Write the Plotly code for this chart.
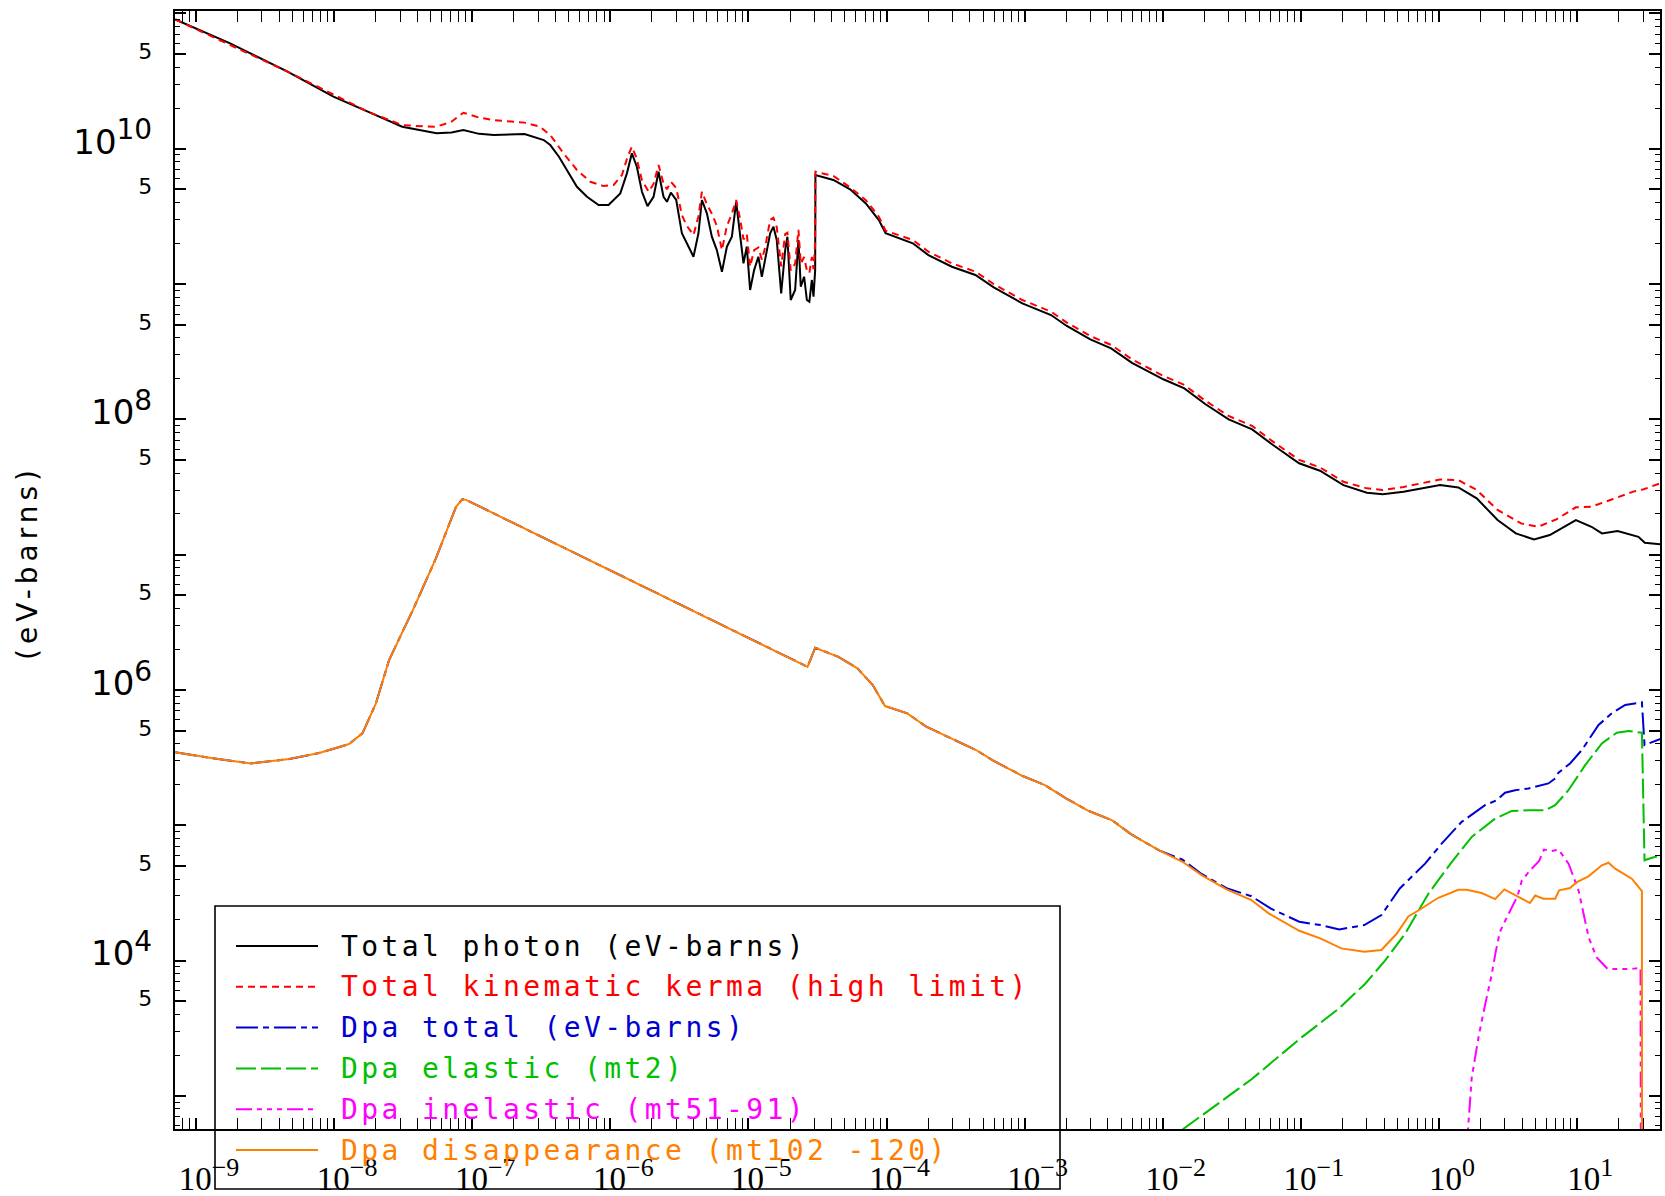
import numpy as np
import plotly.graph_objects as go

# ---------------- data (log10 of energy / log10 of eV-barns) ----------------
photon_log10E = [-9.15, -8.753, -8.337, -8.005, -7.756, -7.507, -7.258, -7.15, -7.064, -6.95, -6.843, -6.621,
                 -6.482, -6.435, -6.372, -6.242, -6.169, -6.085, -6.013, -5.928, -5.880, -5.844, -5.808, -5.771,
                 -5.731, -5.687, -5.651, -5.615, -5.590, -5.562, -5.523, -5.482, -5.446, -5.398, -5.362, -5.337,
                 -5.301, -5.265, -5.229, -5.192, -5.156, -5.120, -5.089, -5.060, -5.036, -5.012, -4.988, -4.959,
                 -4.928, -4.903, -4.879, -4.843, -4.819, -4.795, -4.763, -4.734, -4.718, -4.694, -4.662, -4.638,
                 -4.621, -4.597, -4.577, -4.559, -4.541, -4.529, -4.517, -4.515, -4.385, -4.264, -4.150, -4.056,
                 -4.007, -3.810, -3.697, -3.527, -3.357, -3.224, -3.017, -2.809, -2.695, -2.525, -2.374, -2.223,
                 -1.996, -1.844, -1.693, -1.523, -1.353, -1.202, -1.013, -0.862, -0.692, -0.522, -0.408, -0.257,
                 0.008, 0.140, 0.273, 0.424, 0.556, 0.688, 0.802, 0.991, 1.104, 1.180, 1.293, 1.444, 1.49, 1.615]
photon_log10Y = [10.955, 10.779, 10.570, 10.385, 10.274, 10.163, 10.114, 10.12, 10.138, 10.11, 10.101, 10.109,
                 10.064, 10.027, 9.941, 9.719, 9.645, 9.584, 9.584, 9.670, 9.818, 9.966, 9.867, 9.682,
                 9.576, 9.645, 9.830, 9.645, 9.608, 9.675, 9.621, 9.375, 9.301, 9.202, 9.375, 9.621,
                 9.523, 9.350, 9.251, 9.091, 9.276, 9.350, 9.608, 9.375, 9.153, 9.276, 8.956, 9.103,
                 9.202, 9.054, 9.177, 9.375, 9.424, 9.325, 8.931, 9.251, 9.350, 8.882, 8.956, 9.325,
                 8.980, 9.054, 8.882, 8.869, 9.030, 8.906, 9.103, 9.806, 9.769, 9.700, 9.596, 9.473,
                 9.375, 9.301, 9.214, 9.128, 9.067, 8.976, 8.857, 8.771, 8.690, 8.591, 8.525, 8.418,
                 8.296, 8.229, 8.113, 8.000, 7.926, 7.810, 7.675, 7.620, 7.514, 7.458, 7.446, 7.465,
                 7.514, 7.497, 7.416, 7.256, 7.157, 7.113, 7.145, 7.256, 7.206, 7.157, 7.174, 7.132, 7.088, 7.076]

kerma_log10E = [-9.15, -8.337, -7.756, -7.60, -7.507, -7.35, -7.258, -7.15, -7.064, -6.95, -6.843, -6.621,
                -6.51, -6.435, -6.339, -6.242, -6.145, -6.048, -5.976, -5.916, -5.875, -5.844, -5.81, -5.771,
                -5.723, -5.687, -5.651, -5.615, -5.590, -5.562, -5.523, -5.482, -5.446, -5.398, -5.362, -5.337,
                -5.301, -5.265, -5.229, -5.192, -5.156, -5.120, -5.089, -5.060, -5.036, -5.012, -4.988, -4.959,
                -4.928, -4.903, -4.879, -4.843, -4.819, -4.795, -4.763, -4.734, -4.718, -4.694, -4.662, -4.638,
                -4.621, -4.597, -4.577, -4.559, -4.541, -4.529, -4.517, -4.515, -4.385, -4.264, -4.150, -4.056,
                -4.007, -3.810, -3.697, -3.527, -3.357, -3.224, -3.017, -2.809, -2.695, -2.525, -2.374, -2.223,
                -1.996, -1.844, -1.693, -1.523, -1.353, -1.202, -1.013, -0.862, -0.692, -0.522, -0.408, -0.257,
                0.008, 0.140, 0.273, 0.424, 0.594, 0.716, 0.850, 0.991, 1.104, 1.255, 1.406, 1.482, 1.615]
kerma_log10Y = [10.955, 10.570, 10.274, 10.21, 10.175, 10.165, 10.163, 10.20, 10.266, 10.23, 10.212, 10.193,
                10.163, 10.101, 9.966, 9.843, 9.756, 9.724, 9.732, 9.806, 9.941, 10.015, 9.93, 9.768,
                9.682, 9.74, 9.880, 9.743, 9.70, 9.756, 9.71, 9.510, 9.43, 9.362, 9.50, 9.682,
                9.59, 9.52, 9.43, 9.251, 9.43, 9.52, 9.621, 9.48, 9.33, 9.37, 9.128, 9.25,
                9.27, 9.18, 9.27, 9.474, 9.49, 9.42, 9.13, 9.37, 9.38, 9.10, 9.15, 9.40,
                9.15, 9.20, 9.10, 9.08, 9.20, 9.11, 9.30, 9.830, 9.799, 9.715, 9.62, 9.498,
                9.394, 9.326, 9.239, 9.153, 9.092, 9.000, 8.882, 8.796, 8.715, 8.616, 8.550, 8.443,
                8.321, 8.254, 8.138, 8.025, 7.951, 7.835, 7.700, 7.645, 7.539, 7.490, 7.478, 7.50,
                7.556, 7.551, 7.478, 7.330, 7.231, 7.206, 7.261, 7.350, 7.355, 7.409, 7.466, 7.483, 7.532]

# low-energy part common to Dpa total and Dpa disappearance
dpa_low_log10E = [-9.152, -8.878, -8.603, -8.340, -8.109, -7.892, -7.795, -7.698, -7.602, -7.424, -7.263,
                  -7.117, -7.072, -7.045, -4.572, -4.517, -4.349, -4.211, -4.100, -4.011, -3.850, -3.712,
                  -3.532, -3.352, -3.227, -3.019, -2.854, -2.701, -2.535, -2.369, -2.231, -2.023]
dpa_low_log10Y = [5.539, 5.495, 5.457, 5.487, 5.534, 5.600, 5.679, 5.899, 6.221, 6.603, 6.973,
                  7.354, 7.409, 7.405, 6.171, 6.312, 6.245, 6.160, 6.036, 5.881, 5.827, 5.728,
                  5.642, 5.556, 5.477, 5.366, 5.297, 5.199, 5.105, 5.038, 4.935, 4.812]

dpa_total_hi_log10E = [-1.857, -1.719, -1.538, -1.358, -1.220, -1.012, -0.860, -0.722, -0.541, -0.417, -0.284,
                       -0.222, -0.101, 0.019, 0.164, 0.333, 0.418, 0.478, 0.551, 0.647, 0.792, 0.841, 0.865,
                       0.949, 1.034, 1.155, 1.251, 1.348, 1.469, 1.488, 1.541, 1.615]
dpa_total_hi_log10Y = [4.745, 4.640, 4.535, 4.475, 4.385, 4.287, 4.262, 4.230, 4.262, 4.336, 4.533,
                       4.593, 4.716, 4.864, 5.025, 5.148, 5.185, 5.240, 5.259, 5.272, 5.309, 5.346, 5.388,
                       5.457, 5.556, 5.741, 5.827, 5.889, 5.909, 5.593, 5.615, 5.642]

dpa_disap_hi_log10E = [-1.857, -1.719, -1.538, -1.358, -1.234, -1.012, -0.860, -0.708, -0.541, -0.417, -0.307,
                       -0.222, -0.150, -0.005, 0.140, 0.200, 0.309, 0.406, 0.473, 0.575, 0.659, 0.696, 0.756,
                       0.841, 0.870, 0.949, 0.998, 1.082, 1.179, 1.227, 1.275, 1.396, 1.469, 1.470]
dpa_disap_hi_log10Y = [4.730, 4.632, 4.526, 4.447, 4.349, 4.220, 4.164, 4.090, 4.065, 4.078, 4.198,
                       4.326, 4.370, 4.464, 4.523, 4.523, 4.499, 4.454, 4.526, 4.474, 4.425, 4.481, 4.457,
                       4.457, 4.519, 4.536, 4.580, 4.622, 4.704, 4.723, 4.679, 4.605, 4.514, 2.0]

elastic_log10E = [-1.95, -1.889, -1.671, -1.357, -0.995, -0.729, -0.536, -0.391, -0.246, -0.077, 0.092, 0.237,
                  0.406, 0.527, 0.647, 0.768, 0.841, 0.937, 1.058, 1.179, 1.287, 1.372, 1.469, 1.488, 1.541, 1.615]
elastic_log10Y = [2.60, 2.728, 2.889, 3.123, 3.432, 3.642, 3.827, 4.000, 4.198, 4.494, 4.728, 4.914,
                  5.049, 5.106, 5.111, 5.111, 5.148, 5.259, 5.444, 5.605, 5.684, 5.696, 5.684, 4.741, 4.760, 4.778]

inelastic_log10E = [0.200, 0.208, 0.237, 0.290, 0.340, 0.380, 0.410, 0.440, 0.480, 0.530, 0.570, 0.600, 0.660,
                    0.725, 0.760, 0.815, 0.866, 0.938, 1.010, 1.083, 1.140, 1.220, 1.396, 1.459, 1.462]
inelastic_log10Y = [2.50, 2.728, 3.136, 3.457, 3.704, 3.889, 4.062, 4.210, 4.296, 4.395, 4.481, 4.593, 4.667,
                    4.736, 4.820, 4.810, 4.820, 4.716, 4.519, 4.173, 4.025, 3.938, 3.938, 3.946, 2.0]

series_names = ["Total photon (eV-barns)", "Total kinematic kerma (high limit)", "Dpa total (eV-barns)",
                "Dpa elastic (mt2)", "Dpa inelastic (mt51-91)", "Dpa disappearance (mt102 -120)"]

x_tick_exponents = [-9, -8, -7, -6, -5, -4, -3, -2, -1, 0, 1]
y_labelled_decades = [4, 6, 8, 10]
y_unlabelled_decades = [3, 5, 7, 9, 11]
y_five_decades = [3, 4, 5, 6, 7, 8, 9, 10]

# ---------------- styling ----------------
colors = ["#000000", "#ff0000", "#0000d0", "#00c000", "#ff00ff", "#ff8000"]
dashes = ["solid", "7px,5px", "22px,5px,6px,5px", "20px,5px", "16px,5px,5px,5px,5px,5px,5px,5px", "solid"]

def p10(a):
    return (10.0 ** np.asarray(a, dtype=float)).tolist()

series = [
    (photon_log10E, photon_log10Y),
    (kerma_log10E, kerma_log10Y),
    (dpa_low_log10E + dpa_total_hi_log10E, dpa_low_log10Y + dpa_total_hi_log10Y),
    (elastic_log10E, elastic_log10Y),
    (inelastic_log10E, inelastic_log10Y),
    (dpa_low_log10E + dpa_disap_hi_log10E, dpa_low_log10Y + dpa_disap_hi_log10Y),
]

fig = go.Figure()
for (lx, ly), name, c, d in zip(series, series_names, colors, dashes):
    fig.add_trace(go.Scatter(x=p10(lx), y=p10(ly), mode="lines", name=name,
                             line=dict(color=c, width=2, dash=d), showlegend=False,
                             hoverinfo="skip"))

# plot-area geometry (pixels)
W, H = 1665, 1196
L, R, T, B = 175, 5, 11, 67
PW, PH = W - L - R, H - T - B

def px(xp):
    return (xp - L) / PW

def py(yp):
    return (H - B - yp) / PH

# ---------------- axes ----------------
x_ticktext = ["10<sup><span style='font-size:26px'>%s</span></sup>" % (str(e).replace("-", "\u2212"))
              for e in x_tick_exponents]
y_tickvals = p10(y_labelled_decades) + [5 * 10.0 ** d for d in y_five_decades]
y_ticktext = ["10<sup><span style='font-size:28px'>%d</span></sup>" % d for d in y_labelled_decades] + \
             ["<span style='font-size:22px'>5</span>"] * len(y_five_decades)

axis_common = dict(type="log", showgrid=False, zeroline=False, showline=True, linecolor="black",
                   linewidth=2, mirror="allticks", ticks="inside", ticklen=11, tickwidth=1.6,
                   tickcolor="black", automargin=False,
                   minor=dict(ticks="inside", ticklen=5, tickwidth=1.2, tickcolor="black", dtick="D1"))

fig.update_xaxes(range=[-9.152, 1.600], tickmode="array", tickvals=p10(x_tick_exponents),
                 ticktext=x_ticktext, tickfont=dict(family="Liberation Serif", size=33, color="black"),
                 ticklabelstandoff=19, ticklabelshift=13, **axis_common)
fig.update_yaxes(range=[2.755, 11.018], tickmode="array", tickvals=y_tickvals, ticktext=y_ticktext,
                 tickfont=dict(family="DejaVu Sans", size=34, color="black"),
                 ticklabelstandoff=14, ticklabelshift=-7, **axis_common)

# long ticks at the unlabelled decades (drawn on an overlaid, label-free axis)
fig.add_trace(go.Scatter(x=[], y=[], yaxis="y2", showlegend=False, hoverinfo="skip"))
fig.update_layout(yaxis2=dict(overlaying="y", side="left", range=[2.755, 11.018], type="log",
                              tickmode="array", tickvals=p10(y_unlabelled_decades), showticklabels=False,
                              ticks="inside", ticklen=11, tickwidth=1.6, tickcolor="black",
                              showgrid=False, zeroline=False, showline=False, mirror="ticks",
                              automargin=False))

# ---------------- manual legend ----------------
shapes = [dict(type="rect", xref="paper", yref="paper", x0=px(215), x1=px(1060), y0=py(1189), y1=py(906),
               line=dict(color="black", width=1.6), fillcolor="rgba(0,0,0,0)", layer="above")]
annotations = []
row0, drow = 946, 40.8
for i, (name, c, d) in enumerate(zip(series_names, colors, dashes)):
    yy = row0 + i * drow
    shapes.append(dict(type="line", xref="paper", yref="paper", x0=px(236), x1=px(318), y0=py(yy), y1=py(yy),
                       line=dict(color=c, width=2, dash=d)))
    annotations.append(dict(xref="paper", yref="paper", x=px(339), y=py(yy), xanchor="left", yanchor="middle",
                            showarrow=False,
                            text="<span style='letter-spacing:3.4px'>%s</span>" % name,
                            font=dict(family="DejaVu Sans Mono", size=28, color=c)))

annotations.append(dict(xref="paper", yref="paper", x=px(27), y=py(563), xanchor="center", yanchor="middle",
                        showarrow=False, textangle=-90,
                        text="<span style='letter-spacing:5px'>(eV-barns)</span>",
                        font=dict(family="DejaVu Sans", size=28, color="black")))

fig.update_layout(width=W, height=H, margin=dict(l=L, r=R, t=T, b=B, pad=0, autoexpand=False),
                  paper_bgcolor="white", plot_bgcolor="white", showlegend=False,
                  shapes=shapes, annotations=annotations, hovermode=False)

fig.write_html("out.html", config={"displayModeBar": False},
               post_script="document.body.style.margin='0';document.body.style.padding='0';"
                           "document.body.style.overflow='hidden';")
